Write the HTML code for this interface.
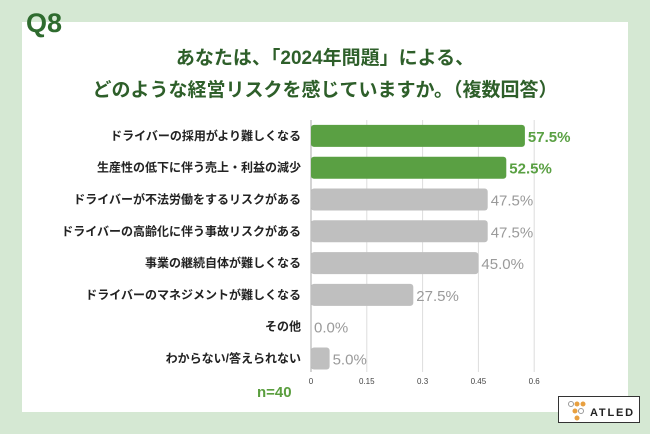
<!DOCTYPE html>
<html><head><meta charset="utf-8"><style>
body{margin:0;width:650px;height:434px;background:#d5e8d3;font-family:"Liberation Sans","Noto Sans CJK JP",sans-serif;position:relative;overflow:hidden}
#panel{position:absolute;left:22px;top:22px;width:606px;height:390px;background:#fff}
#q{position:absolute;left:26px;top:8px;font-size:27px;font-weight:bold;color:#2e6b2e}
.t{position:absolute;left:0;width:650px;text-align:center;font-size:19px;font-weight:bold;color:#2e5f2a}
#n{position:absolute;left:257px;top:384px;font-size:15px;color:#5a9e3e;font-weight:bold}
#logo{position:absolute;left:558px;top:396px;width:82px;height:27px;border:1px solid #333;background:#fff;box-sizing:border-box}
</style></head><body>
<div id="panel"></div>
<div id="q">Q8</div>
<div class="t" style="top:43px">あなたは、「2024年問題」による、</div>
<div class="t" style="top:75px">どのような経営リスクを感じていますか。（複数回答）</div>
<svg id="chart" width="650" height="434" style="position:absolute;left:0;top:0"></svg>
<div id="n">n=40</div>
<div id="logo">
<svg width="82" height="27" style="position:absolute;left:0;top:0"><circle cx="12" cy="7" r="2.5" fill="none" stroke="#999"/><circle cx="18" cy="7" r="2.5" fill="#e8a040"/><circle cx="24" cy="7" r="2.5" fill="#e8a040"/><circle cx="16" cy="14" r="2.5" fill="#e8a040"/><circle cx="22" cy="14" r="2.5" fill="none" stroke="#999"/><circle cx="18" cy="21" r="2.5" fill="#e8a040"/><text x="31" y="19" font-size="11" font-weight="bold" letter-spacing="1.8" fill="#222" font-family="Liberation Sans">ATLED</text></svg>
</div>
<script>
const categories=["ドライバーの採用がより難しくなる","生産性の低下に伴う売上・利益の減少","ドライバーが不法労働をするリスクがある","ドライバーの高齢化に伴う事故リスクがある","事業の継続自体が難しくなる","ドライバーのマネジメントが難しくなる","その他","わからない/答えられない"];
const values=[0.575,0.525,0.475,0.475,0.45,0.275,0,0.05];
const labels=["57.5%","52.5%","47.5%","47.5%","45.0%","27.5%","0.0%","5.0%"];
const ticks=[0,0.15,0.3,0.45,0.6];
const tickLabels=["0","0.15","0.3","0.45","0.6"];
const svg=document.getElementById('chart');const NS="http://www.w3.org/2000/svg";
const x0=311,sc=372,top0=120,step=31.8,bh=22;
const X=v=>x0+v*sc, Y=i=>top0+i*step+step/2;
function mk(t,a){const e=document.createElementNS(NS,t);for(const k in a)e.setAttribute(k,a[k]);svg.appendChild(e);return e;}
ticks.forEach((t,i)=>{
 const l=mk('line',{x1:X(t),x2:X(t),y1:top0,y2:372,stroke:i?'#ddd':'#aaa','stroke-width':1});
 
 
 const tx=mk('text',{x:X(t),y:384,'font-size':8,fill:'#444','text-anchor':'middle'});tx.textContent=tickLabels[i];
 
 
});
categories.forEach((c,i)=>{
 const g=i<2;const y=Y(i);
 const ct=mk('text',{x:301,y:y+4,'font-size':12,'font-weight':'bold',fill:'#222','text-anchor':'end'});ct.textContent=c;
 
 
 if(values[i]>0){const r=mk('rect',{x:x0,y:y-bh/2,width:X(values[i])-x0,height:bh,rx:3,fill:g?'#5aa043':'#bfbfbf'});
 
 }
 const vt=mk('text',{x:X(values[i])+3,y:y+6,'font-size':15,'font-weight':g?'bold':'normal',fill:g?'#5aa043':'#9a9a9a'});vt.textContent=labels[i];
 
 
});
</script>
</body></html>
